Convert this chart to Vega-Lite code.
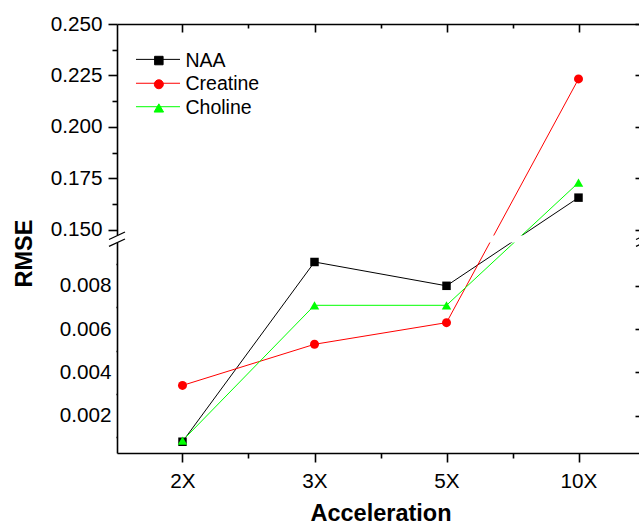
{
  "$schema": "https://vega.github.io/schema/vega-lite/v6.json",
  "autosize": {"type": "none"},
  "width": 522,
  "height": 429,
  "padding": {"left": 117, "top": 24, "right": 0, "bottom": 72},
  "background": "white",
  "config": {
    "view": {"stroke": null},
    "font": "Liberation Sans",
    "axis": {
      "domainColor": "black", "domainWidth": 1.6, "tickColor": "black", "tickWidth": 1.6,
      "labelColor": "black", "titleColor": "black", "grid": false,
      "labelFont": "Liberation Sans", "titleFont": "Liberation Sans",
      "labelOverlap": false, "labelBound": false, "labelFlush": false
    },
    "legend": {
      "labelFont": "Liberation Sans",
      "title": null,
      "orient": "none",
      "legendX": 32.1,
      "legendY": 26.8,
      "padding": 0,
      "rowPadding": 2.7,
      "labelOffset": 16.9,
      "labelFontSize": 19.5,
      "labelColor": "black",
      "symbolStrokeWidth": 1
    }
  },
  "datasets": {
    "rmse": [
      {"acc": 0, "series": "NAA", "rmse": 0.0008},
      {"acc": 1, "series": "NAA", "rmse": 0.0091},
      {"acc": 2, "series": "NAA", "rmse": 0.0080},
      {"acc": 3, "series": "NAA", "rmse": 0.1656},
      {"acc": 0, "series": "Creatine", "rmse": 0.0034},
      {"acc": 1, "series": "Creatine", "rmse": 0.0053},
      {"acc": 2, "series": "Creatine", "rmse": 0.0063},
      {"acc": 3, "series": "Creatine", "rmse": 0.2233},
      {"acc": 0, "series": "Choline", "rmse": 0.00085},
      {"acc": 1, "series": "Choline", "rmse": 0.0071},
      {"acc": 2, "series": "Choline", "rmse": 0.0071},
      {"acc": 3, "series": "Choline", "rmse": 0.1729}
    ]
  },
  "resolve": {"axis": {"x": "independent", "y": "independent"}},
  "layer": [
    {
      "data": {"name": "rmse"},
      "mark": {"type": "line", "strokeWidth": 1},
      "encoding": {
        "x": {
          "field": "acc", "type": "quantitative",
          "scale": {"domain": [-0.4962, 3.4583], "nice": false, "zero": false},
          "axis": {
            "orient": "bottom",
            "values": [-0.5, 0, 0.5, 1, 1.5, 2, 2.5, 3],
            "tickSize": {"condition": {"test": "datum.value % 1 !== 0", "value": 5}, "value": 9},
            "labelExpr": "datum.value === 0 ? '2X' : datum.value === 1 ? '3X' : datum.value === 2 ? '5X' : datum.value === 3 ? '10X' : ''",
            "labelFontSize": 20.7,
            "labelPadding": 9,
            "title": "Acceleration",
            "titleFontSize": 23.5,
            "titleFontWeight": "bold",
            "titleX": 263.5,
            "titleY": 67,
            "titleBaseline": "alphabetic",
            "titleAlign": "center"
          }
        },
        "y": {
          "field": "rmse", "type": "quantitative",
          "scale": {"domain": [0.00028, 0.0100, 0.1472, 0.25], "range": [429, 218.5, 211.5, 0], "nice": false, "zero": false},
          "axis": {
            "orient": "left",
            "values": [0.001, 0.002, 0.003, 0.004, 0.005, 0.006, 0.007, 0.008, 0.009, 0.15, 0.1625, 0.175, 0.1875, 0.2, 0.2125, 0.225, 0.2375, 0.25],
            "tickSize": {"condition": {"test": "datum.value < 0.1 ? round(datum.value*1000) % 2 !== 0 : round(datum.value*10000) % 250 !== 0", "value": 5}, "value": 9},
            "labelExpr": "(datum.value < 0.1 ? round(datum.value*1000) % 2 === 0 : round(datum.value*10000) % 250 === 0) ? format(datum.value, '.3f') : ''",
            "labelFontSize": 20.7,
            "labelPadding": 6,
            "title": "RMSE",
            "titleFontSize": 23.5,
            "titleFontWeight": "bold",
            "titleAngle": 270,
            "titleX": -86,
            "titleY": 229,
            "titleBaseline": "alphabetic",
            "titleAlign": "center"
          }
        },
        "color": {
          "field": "series", "type": "nominal",
          "scale": {"domain": ["NAA", "Creatine", "Choline"], "range": ["#000000", "#ff0000", "#00ff00"]}
        }
      }
    },
    {
      "data": {"values": [{}]},
      "mark": {"type": "rect", "color": "white"},
      "encoding": {
        "x": {"datum": -0.515, "type": "quantitative", "axis": null},
        "x2": {"datum": 3.6},
        "y": {"datum": 0.0100, "type": "quantitative", "axis": null},
        "y2": {"datum": 0.1472}
      }
    },
    {
      "data": {"values": [{}]},
      "mark": {"type": "rule", "color": "#000000", "strokeWidth": 1},
      "encoding": {
        "x": {"datum": -0.3523, "type": "quantitative", "axis": null},
        "x2": {"datum": -0.0189},
        "y": {"datum": 0.2328, "type": "quantitative", "axis": null}
      }
    },
    {
      "data": {"values": [{}]},
      "mark": {"type": "rule", "color": "#ff0000", "strokeWidth": 1},
      "encoding": {
        "x": {"datum": -0.3523, "type": "quantitative", "axis": null},
        "x2": {"datum": -0.0189},
        "y": {"datum": 0.2212, "type": "quantitative", "axis": null}
      }
    },
    {
      "data": {"values": [{}]},
      "mark": {"type": "rule", "color": "#00ff00", "strokeWidth": 1},
      "encoding": {
        "x": {"datum": -0.3523, "type": "quantitative", "axis": null},
        "x2": {"datum": -0.0189},
        "y": {"datum": 0.2098, "type": "quantitative", "axis": null}
      }
    },
    {
      "data": {"name": "rmse"},
      "mark": {"type": "point", "filled": true, "opacity": 1},
      "encoding": {
        "x": {
          "field": "acc", "type": "quantitative",
          "axis": {
            "orient": "top",
            "values": [-0.5, 0, 0.5, 1, 1.5, 2, 2.5, 3],
            "tickSize": {"condition": {"test": "datum.value % 1 !== 0", "value": -4}, "value": -8},
            "labels": false, "domain": true, "title": null
          }
        },
        "y": {
          "field": "rmse", "type": "quantitative",
          "axis": {
            "orient": "right",
            "offset": 5,
            "values": [0.002, 0.004, 0.006, 0.008, 0.15, 0.175, 0.2, 0.225, 0.25],
            "tickSize": -9,
            "labels": false, "domain": false, "title": null
          }
        },
        "color": {
          "field": "series", "type": "nominal",
          "scale": {"domain": ["NAA", "Creatine", "Choline"], "range": ["#000000", "#ff0000", "#00ff00"]}
        },
        "shape": {
          "field": "series", "type": "nominal",
          "scale": {"domain": ["NAA", "Creatine", "Choline"], "range": ["square", "circle", "triangle-up"]}
        },
        "size": {
          "field": "series", "type": "nominal",
          "scale": {"domain": ["NAA", "Creatine", "Choline"], "range": [72, 90, 121]}
        }
      }
    },
    {
      "data": {"values": [{}]},
      "mark": {"type": "rule", "color": "black", "strokeWidth": 1.3},
      "encoding": {
        "x": {"datum": -0.5568, "type": "quantitative", "axis": null},
        "x2": {"datum": -0.4356},
        "y": {"datum": 0.0688, "type": "quantitative", "axis": null},
        "y2": {"datum": 0.1489}
      }
    },
    {
      "data": {"values": [{}]},
      "mark": {"type": "rule", "color": "black", "strokeWidth": 1.3},
      "encoding": {
        "x": {"datum": -0.5568, "type": "quantitative", "axis": null},
        "x2": {"datum": -0.4356},
        "y": {"datum": 0.00982, "type": "quantitative", "axis": null},
        "y2": {"datum": 0.0786}
      }
    },
    {
      "data": {"values": [{}]},
      "mark": {"type": "rule", "color": "black", "strokeWidth": 1.3},
      "encoding": {
        "x": {"datum": 3.4356, "type": "quantitative", "axis": null},
        "x2": {"datum": 3.5568},
        "y": {"datum": 0.0688, "type": "quantitative", "axis": null},
        "y2": {"datum": 0.1489}
      }
    },
    {
      "data": {"values": [{}]},
      "mark": {"type": "rule", "color": "black", "strokeWidth": 1.3},
      "encoding": {
        "x": {"datum": 3.4356, "type": "quantitative", "axis": null},
        "x2": {"datum": 3.5568},
        "y": {"datum": 0.00982, "type": "quantitative", "axis": null},
        "y2": {"datum": 0.0786}
      }
    }
  ]
}
